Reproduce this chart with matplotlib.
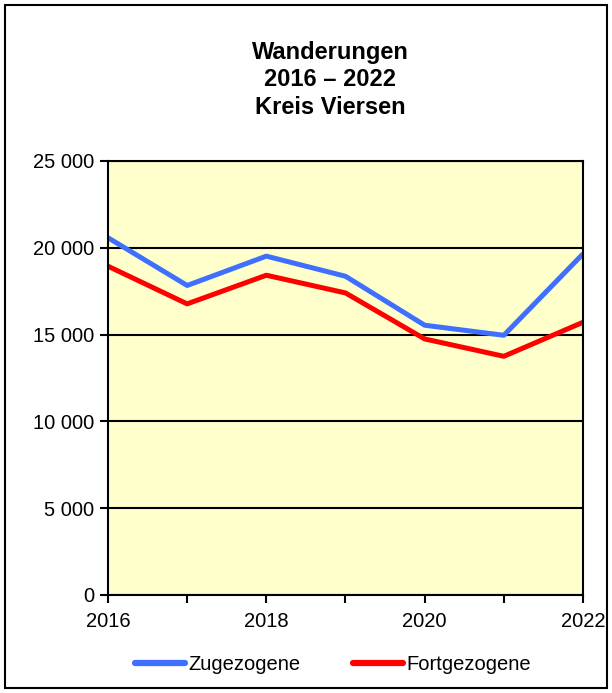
import matplotlib
matplotlib.use("Agg")
import matplotlib.pyplot as plt
from matplotlib.patches import Rectangle
from matplotlib.ticker import FuncFormatter, MultipleLocator

plt.rcParams['font.family'] = ['Liberation Sans', 'DejaVu Sans']

years = [2016, 2017, 2018, 2019, 2020, 2021, 2022]
zugezogene = [20580, 17830, 19520, 18360, 15540, 14960, 19650]
fortgezogene = [18940, 16770, 18420, 17400, 14750, 13750, 15710]
title_lines = ["Wanderungen", "2016 \u2013 2022", "Kreis Viersen"]
series_labels = ["Zugezogene", "Fortgezogene"]

W, H = 612, 693
fig = plt.figure(figsize=(W/100, H/100), dpi=100)
fig.patch.set_facecolor("white")
fig.patches.append(Rectangle((5/W, 5/H), (607-5)/W, (688-5)/H, transform=fig.transFigure,
                             fill=False, edgecolor="black", linewidth=1.5))

ax = fig.add_axes([108/W, 1-595/H, (583-108)/W, (595-161)/H])
ax.set_facecolor("#FFFFCC")
ax.plot(years, zugezogene, color="#3F6FFF", lw=3.6, label=series_labels[0], solid_capstyle="butt")
ax.plot(years, fortgezogene, color="#FF0000", lw=3.6, label=series_labels[1], solid_capstyle="butt")

ax.set_xlim(2016, 2022)
ax.set_ylim(0, 25000)
ax.yaxis.set_major_locator(MultipleLocator(5000))
ax.yaxis.set_major_formatter(FuncFormatter(lambda v, p: f"{int(v):,}".replace(",", " ")))
ax.xaxis.set_major_locator(MultipleLocator(2))
ax.xaxis.set_minor_locator(MultipleLocator(1))
ax.grid(axis="y", color="black", lw=1.5)
ax.set_axisbelow(True)
for s in ax.spines.values():
    s.set_linewidth(1.5)
ax.tick_params(axis="both", which="both", direction="out", length=6, width=1.5, labelsize=14.5, colors="black")
ax.tick_params(axis="x", pad=6)
ax.tick_params(axis="y", pad=4)

for i, t in enumerate(title_lines):
    fig.text(330/W, 1-(53+27*i)/H, t, ha="center", va="center", fontsize=17, fontweight="bold")

leg = fig.legend(loc="center", bbox_to_anchor=(333/W, 1-665/H), ncol=2, frameon=False,
                 fontsize=14.5, handlelength=2.5, handletextpad=0.15, columnspacing=2.6)
for line in leg.get_lines():
    line.set_linewidth(4.5)
    line.set_solid_capstyle("round")

fig.savefig("out.png", dpi=100)
